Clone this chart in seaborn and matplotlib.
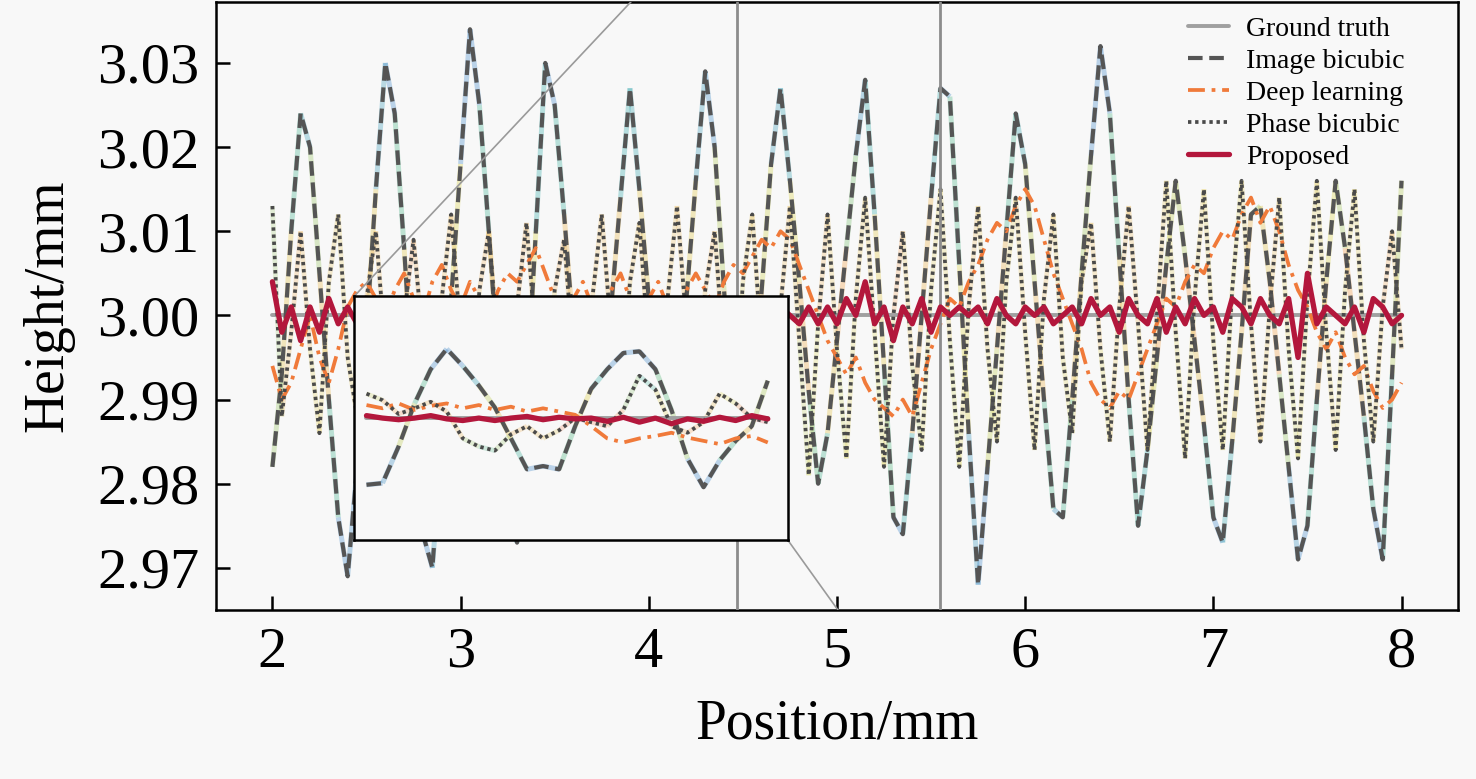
import numpy as np
import pandas as pd
import matplotlib
matplotlib.use("Agg")
import matplotlib.pyplot as plt
from matplotlib.collections import LineCollection
from matplotlib.colors import LinearSegmentedColormap
import seaborn as sns

# sampling positions (mm)
position = np.round(np.arange(2.0, 8.0001, 0.05), 2)

ground_truth = [3.000] * len(position)

image_bicubic = [
    2.982, 2.993, 3.010, 3.024, 3.020, 3.005, 2.990, 2.976, 2.969, 2.982,
    2.998, 3.015, 3.030, 3.024, 3.008, 2.990, 2.974, 2.970, 2.985, 3.002,
    3.018, 3.034, 3.025, 3.010, 2.994, 2.980, 2.973, 2.990, 3.010, 3.030,
    3.025, 3.012, 2.998, 2.984, 2.976, 2.988, 3.001, 3.014, 3.027, 3.015,
    3.002, 2.989, 2.978, 2.988, 3.002, 3.016, 3.029, 3.020, 3.003, 2.987,
    2.975, 2.989, 3.003, 3.018, 3.027, 3.016, 3.004, 2.991, 2.980, 2.986,
    2.997, 3.008, 3.019, 3.028, 3.012, 2.994, 2.976, 2.974, 2.986, 3.000,
    3.014, 3.027, 3.026, 3.006, 2.986, 2.968, 2.982, 2.996, 3.010, 3.024,
    3.018, 3.004, 2.990, 2.977, 2.976, 2.990, 3.005, 3.019, 3.032, 3.024,
    3.007, 2.990, 2.975, 2.984, 2.995, 3.006, 3.016, 3.007, 2.997, 2.987,
    2.976, 2.973, 2.985, 2.998, 3.012, 3.013, 3.004, 2.993, 2.982, 2.971,
    2.975, 2.990, 3.004, 3.016, 3.008, 2.998, 2.988, 2.977, 2.971, 2.993,
    3.016,
]

deep_learning = [
    2.994, 2.990, 2.992, 2.996, 3.000, 2.995, 2.992, 2.996, 3.001, 3.003,
    3.004, 3.002, 3.000, 3.003, 3.005, 3.002, 3.000, 3.004, 3.006, 3.003,
    3.001, 3.004, 3.002, 3.000, 3.003, 3.005, 3.004, 3.006, 3.008, 3.005,
    3.002, 3.000, 3.002, 3.004, 3.001, 3.000, 3.003, 3.005, 3.002, 3.000,
    3.002, 3.004, 3.001, 3.000, 3.003, 3.005, 3.003, 3.001, 3.004, 3.006,
    3.005, 3.007, 3.009, 3.008, 3.010, 3.009, 3.006, 3.003, 3.000, 2.997,
    2.995, 2.993, 2.995, 2.992, 2.990, 2.989, 2.988, 2.990, 2.988, 2.992,
    2.996, 2.999, 3.002, 3.001, 3.004, 3.006, 3.009, 3.011, 3.010, 3.013,
    3.015, 3.013, 3.009, 3.005, 3.002, 2.999, 2.996, 2.992, 2.990, 2.989,
    2.991, 2.990, 2.993, 2.996, 2.999, 3.002, 3.001, 3.004, 3.006, 3.005,
    3.008, 3.010, 3.009, 3.012, 3.014, 3.011, 3.013, 3.010, 3.006, 3.003,
    3.001, 2.998, 2.996, 2.998, 2.995, 2.993, 2.994, 2.991, 2.989, 2.990,
    2.992,
]

phase_bicubic = [
    3.013, 2.988, 2.998, 3.010, 2.996, 2.986, 3.004, 3.012, 2.995, 2.988,
    3.002, 3.010, 2.996, 2.987, 3.000, 3.009, 2.997, 2.986, 3.002, 3.012,
    2.998, 2.987, 3.003, 3.010, 2.996, 2.988, 3.001, 3.011, 2.997, 2.986,
    3.003, 3.009, 2.995, 2.988, 3.002, 3.012, 2.998, 2.987, 3.004, 3.011,
    2.996, 2.986, 3.002, 3.013, 2.999, 2.988, 3.003, 3.010, 2.995, 2.985,
    3.004, 3.012, 2.996, 2.984, 3.001, 3.013, 2.997, 2.981, 2.999, 3.012,
    2.996, 2.983, 3.002, 3.014, 2.998, 2.982, 3.000, 3.010, 2.994, 2.984,
    3.003, 3.015, 2.997, 2.982, 3.001, 3.013, 2.996, 2.985, 3.004, 3.014,
    2.998, 2.984, 3.002, 3.012, 2.995, 2.986, 3.004, 3.011, 2.996, 2.985,
    3.001, 3.013, 2.999, 2.984, 3.000, 3.016, 2.998, 2.983, 3.002, 3.015,
    2.997, 2.984, 3.003, 3.016, 2.999, 2.985, 3.001, 3.014, 2.996, 2.983,
    3.002, 3.016, 2.998, 2.984, 3.003, 3.015, 2.997, 2.985, 3.001, 3.010,
    2.996,
]

proposed = [
    3.004, 2.998, 3.001, 2.997, 3.001, 2.998, 3.002, 2.999, 3.001, 2.999,
    3.001, 3.000, 3.002, 2.999, 3.001, 3.000, 2.999, 3.001, 3.000, 3.002,
    2.999, 3.001, 3.000, 3.002, 2.999, 3.001, 3.000, 3.001, 2.999, 3.002,
    3.000, 3.001, 2.999, 3.001, 3.000, 3.002, 2.999, 3.001, 3.000, 3.002,
    3.000, 2.999, 3.001, 3.000, 3.002, 2.999, 3.001, 3.000, 3.002, 2.999,
    3.001, 3.000, 3.002, 2.999, 3.001, 3.000, 2.999, 3.001, 2.999, 3.001,
    2.999, 3.002, 3.000, 3.004, 2.999, 3.001, 2.997, 3.001, 2.999, 3.002,
    2.998, 3.001, 3.000, 3.001, 3.000, 3.001, 2.999, 3.002, 3.000, 2.999,
    3.001, 3.000, 3.001, 2.999, 3.000, 3.001, 2.999, 3.002, 3.000, 3.001,
    2.998, 3.002, 3.000, 2.999, 3.002, 2.998, 3.001, 2.999, 3.002, 3.000,
    3.001, 2.998, 3.002, 3.001, 2.999, 3.002, 3.000, 2.999, 3.002, 2.995,
    3.005, 2.999, 3.001, 3.000, 2.999, 3.001, 2.998, 3.002, 3.001, 2.999,
    3.000,
]

# zoomed detail shown in the inset
inset_position = np.round(np.arange(4.50, 5.5001, 0.04), 2)
inset_image = [
    2.9918, 2.9920, 2.9965, 3.0018, 3.0060, 3.0085, 3.0064, 3.0040, 3.0013,
    2.9975, 2.9937, 2.9941, 2.9937, 2.9990, 3.0036, 3.0060, 3.0080, 3.0082,
    3.0060, 3.0010, 2.9950, 2.9915, 2.9948, 2.9972, 2.9990, 3.0046,
]
inset_phase = [
    3.0030, 3.0022, 3.0005, 3.0012, 3.0020, 3.0008, 2.9975, 2.9965, 2.9960,
    2.9980, 2.9990, 2.9975, 2.9985, 3.0000, 2.9995, 2.9990, 3.0010, 3.0052,
    3.0035, 2.9990, 2.9982, 2.9995, 3.0030, 3.0018, 3.0000, 2.9995,
]
inset_deep = [
    3.0016, 3.0012, 3.0018, 3.0010, 3.0015, 3.0018, 3.0012, 3.0016, 3.0010,
    3.0014, 3.0008, 3.0012, 3.0008, 3.0004, 2.9990, 2.9975, 2.9970, 2.9975,
    2.9978, 2.9982, 2.9976, 2.9972, 2.9968, 2.9975, 2.9978, 2.9970,
]
inset_proposed = [
    3.0003, 3.0000, 2.9998, 3.0000, 3.0003, 2.9999, 2.9997, 3.0000, 2.9997,
    3.0000, 3.0002, 2.9998, 3.0001, 2.9999, 3.0000, 2.9996, 3.0001, 2.9995,
    3.0000, 2.9993, 2.9999, 2.9996, 3.0001, 2.9997, 3.0003, 2.9999,
]

df = pd.DataFrame({"Position": position, "Ground truth": ground_truth,
                   "Image bicubic": image_bicubic,
                   "Deep learning": deep_learning,
                   "Phase bicubic": phase_bicubic, "Proposed": proposed})
df_in = pd.DataFrame({"Position": inset_position, "Ground truth": 3.0,
                      "Image bicubic": inset_image,
                      "Deep learning": inset_deep,
                      "Phase bicubic": inset_phase,
                      "Proposed": inset_proposed})

sns.set_style("ticks")
plt.rcParams["font.family"] = ["Liberation Serif", "DejaVu Serif"]
plt.rcParams["axes.linewidth"] = 1.8
plt.rcParams["text.color"] = "black"
plt.rcParams["axes.labelcolor"] = "black"
plt.rcParams["xtick.color"] = "black"
plt.rcParams["ytick.color"] = "black"

bg = "#f8f8f8"
dev_cmap = LinearSegmentedColormap.from_list(
    "dev", ["#e03a50", "#f28e2b", "#d9cf32", "#3aae6f", "#1fa5a0", "#2b7bc4"])

styles = {
    "Ground truth": dict(color="#a0a0a0", linestyle="-", linewidth=2.8),
    "Image bicubic": dict(color="#555555", linestyle=(0, (3.5, 1.6)),
                          linewidth=3.0),
    "Deep learning": dict(color="#f07a3a", linestyle=(0, (4.5, 1.8, 1, 1.8)),
                          linewidth=2.7),
    "Phase bicubic": dict(color="#4a4a4a", linestyle=(0, (0.9, 1.0)),
                          linewidth=2.7),
    "Proposed": dict(color="#b3173c", linestyle="-", linewidth=3.8),
}


def colour_under(ax, x, y, vmax, lw, alpha):
    # gradient under-stroke coloured by the deviation from 3.00 mm
    pts = np.column_stack([x, y]).reshape(-1, 1, 2)
    segs = np.concatenate([pts[:-1], pts[1:]], axis=1)
    dev = np.abs(np.asarray(y) - 3.0)
    lc = LineCollection(segs, cmap=dev_cmap, alpha=alpha, linewidth=lw,
                        zorder=1.5)
    lc.set_array((dev[:-1] + dev[1:]) / 2)
    lc.set_clim(0, vmax)
    ax.add_collection(lc)


def draw(ax, data, vmax, legend):
    colour_under(ax, data["Position"], data["Image bicubic"], vmax, 3.6, 0.3)
    colour_under(ax, data["Position"], data["Phase bicubic"], vmax, 3.4, 0.22)
    for name, st in styles.items():
        sns.lineplot(data=data, x="Position", y=name, ax=ax,
                     label=name if legend else None,
                     zorder=4 if name == "Proposed" else 2, **st)


fig, ax = plt.subplots(figsize=(14.76, 7.79), dpi=100)
fig.patch.set_facecolor(bg)
ax.set_facecolor(bg)
fig.subplots_adjust(left=0.1463, right=0.9878, bottom=0.217, top=0.997)

draw(ax, df, 0.025, True)

# zoom window markers
zoom_x = [4.47, 5.55]
for zx in zoom_x:
    ax.axvline(zx, color="#8c8c8c", linewidth=2.0, zorder=3)

ax.set_xlim(1.7, 8.3)
ax.set_ylim(2.965, 3.0372)
ax.set_xticks([2, 3, 4, 5, 6, 7, 8])
ax.set_yticks([2.97, 2.98, 2.99, 3.00, 3.01, 3.02, 3.03])
ax.set_yticklabels([f"{v:.2f}" for v in ax.get_yticks()])
ax.tick_params(direction="in", length=10, width=1.8, labelsize=42, pad=12,
               colors="black")
ax.set_xlabel("Position/mm", fontsize=40, labelpad=14, color="black")
ax.set_ylabel("Height/mm", fontsize=40, labelpad=16, color="black")
for sp in ax.spines.values():
    sp.set_color("black")
    sp.set_linewidth(1.8)

leg = ax.legend(loc="upper right", frameon=False, fontsize=20,
                handlelength=1.5, handletextpad=0.6, labelspacing=0.24,
                borderaxespad=0.1, bbox_to_anchor=(0.968, 1.0))
for t in leg.get_texts():
    t.set_color("black")

# inset
box = [2.436, 2.9733, 4.739 - 2.436, 3.0023 - 2.9733]
axin = ax.inset_axes(box, transform=ax.transData, zorder=6)
axin.set_facecolor(bg)
draw(axin, df_in, 0.006, False)
axin.set_xlim(4.47, 5.55)
axin.set_ylim(2.985, 3.015)
axin.set_xticks([])
axin.set_yticks([])
axin.set_xlabel("")
axin.set_ylabel("")
for sp in axin.spines.values():
    sp.set_color("black")
    sp.set_linewidth(1.8)

# connector lines from the inset to the zoom window
ax.plot([box[0], zoom_x[0]], [box[1] + box[3], 3.0507],
        color="#9a9a9a", linewidth=1.2, zorder=3)
ax.plot([box[0] + box[2], zoom_x[1]], [box[1], 2.948],
        color="#9a9a9a", linewidth=1.2, zorder=3)

fig.savefig("out.png", dpi=100, facecolor=bg)
